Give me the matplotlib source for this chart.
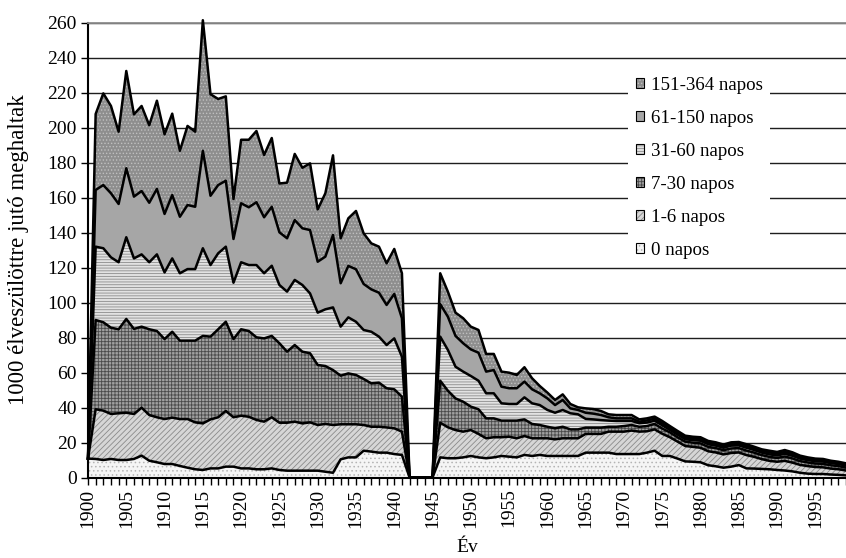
import numpy as np
import matplotlib
matplotlib.use("Agg")
import matplotlib.pyplot as plt
from matplotlib.patches import Patch
from matplotlib.legend_handler import HandlerTuple

# Infant deaths per 1000 live births, by age at death (days), 1900-1999
years = list(range(1900, 2000))

napos_0 = [
    10.8, 10.6, 10.0, 10.6, 10.0, 10.0, 10.6, 12.5, 9.6, 8.7,
    7.7, 7.7, 6.6, 5.6, 4.7, 4.3, 5.2, 5.2, 6.2, 6.2,
    5.2, 5.2, 4.7, 4.7, 5.2, 4.3, 3.9, 3.9, 3.9, 3.9,
    3.9, 3.3, 2.7, 10.4, 11.5, 11.5, 15.3, 14.8, 14.2, 14.2,
    13.4, 12.9, 0, 0, 0, 0, 11.5, 11.0, 11.0, 11.5,
    12.3, 11.5, 11.0, 11.5, 12.3, 11.9, 11.5, 12.9, 12.3, 12.9,
    12.3, 12.3, 12.3, 12.3, 12.3, 14.2, 14.2, 14.2, 14.2, 13.4,
    13.4, 13.4, 13.4, 14.2, 15.3, 12.3, 12.3, 10.8, 9.2, 9.0,
    8.7, 7.0, 6.4, 5.6, 6.2, 7.1, 5.2, 5.1, 4.9, 4.7,
    4.3, 4.0, 3.5, 2.7, 2.2, 2.0, 2.0, 1.7, 1.5, 1.2,
]
napos_1_6 = [
    0, 28.4, 28.2, 25.7, 26.7, 27.0, 25.7, 27.4, 26.1, 25.7,
    25.7, 26.5, 26.8, 27.8, 26.8, 26.6, 28.0, 29.2, 31.8, 28.2,
    30.1, 29.5, 28.2, 27.2, 29.2, 27.0, 27.4, 28.0, 27.0, 27.6,
    26.1, 27.3, 27.3, 20.0, 18.9, 18.9, 14.7, 14.2, 14.8, 14.4,
    14.7, 13.3, 0, 0, 0, 0, 19.8, 17.7, 16.1, 14.7,
    14.8, 13.4, 11.4, 11.5, 10.7, 11.4, 10.9, 10.8, 10.1, 9.5,
    10.1, 9.5, 10.1, 10.1, 10.1, 10.7, 10.7, 10.7, 12.0, 12.8,
    12.8, 13.4, 12.8, 12.2, 12.2, 12.7, 10.7, 9.7, 8.8, 8.5,
    8.3, 8.0, 7.9, 7.6, 7.8, 7.2, 7.6, 6.7, 5.6, 4.8,
    4.7, 5.5, 5.0, 4.5, 4.3, 4.0, 3.8, 3.4, 3.2, 2.8,
]
napos_7_30 = [
    0, 51.0, 50.5, 49.3, 48.0, 53.6, 48.6, 46.3, 49.0, 49.3,
    45.7, 49.1, 44.8, 44.8, 46.7, 50.0, 47.3, 50.3, 51.0, 44.7,
    49.4, 49.0, 47.2, 47.6, 46.5, 45.4, 40.6, 43.8, 41.0, 39.5,
    34.3, 33.1, 31.4, 27.8, 29.1, 28.2, 26.3, 24.8, 25.2, 22.4,
    22.3, 20.0, 0, 0, 0, 0, 24.0, 20.9, 18.1, 17.1,
    13.4, 14.1, 11.4, 10.8, 9.5, 9.2, 10.1, 9.5, 8.2, 7.6,
    6.6, 6.3, 6.6, 5.1, 5.1, 3.6, 3.6, 3.6, 2.8, 2.8,
    3.2, 3.2, 2.8, 3.0, 3.1, 3.0, 2.8, 2.5, 2.5, 2.4,
    2.5, 2.5, 2.5, 2.4, 2.6, 2.5, 2.6, 2.4, 2.3, 2.3,
    2.2, 2.5, 2.4, 2.2, 2.1, 2.0, 2.0, 1.9, 1.8, 1.7,
]
napos_31_60 = [
    0, 41.9, 42.3, 40.2, 38.3, 46.7, 40.3, 41.3, 38.3, 43.8,
    38.1, 41.9, 38.5, 40.9, 40.9, 50.1, 40.9, 43.4, 42.9, 32.2,
    38.3, 37.7, 41.3, 37.2, 40.1, 33.3, 34.3, 37.2, 38.1, 34.2,
    29.9, 32.4, 35.8, 28.0, 32.0, 30.4, 28.0, 29.5, 26.3, 24.7,
    29.1, 22.8, 0, 0, 0, 0, 25.2, 23.3, 18.1, 17.2,
    17.5, 16.3, 14.3, 14.3, 9.9, 9.5, 9.5, 12.6, 11.8, 11.4,
    9.6, 8.9, 9.6, 9.2, 8.6, 5.0, 4.7, 4.3, 3.5, 3.3,
    2.9, 2.3, 2.0, 2.0, 1.8, 1.8, 1.4, 1.5, 1.4, 1.4,
    1.5, 1.5, 1.4, 1.4, 1.6, 1.5, 1.6, 1.5, 1.4, 1.4,
    1.4, 1.5, 1.5, 1.4, 1.3, 1.3, 1.3, 1.2, 1.2, 1.1,
]
napos_61_150 = [
    0, 32.4, 36.1, 36.6, 33.3, 39.4, 35.3, 36.2, 34.0, 37.4,
    33.4, 36.2, 32.3, 36.6, 35.6, 55.7, 39.6, 39.0, 37.7, 25.0,
    33.7, 33.0, 35.9, 32.0, 33.7, 30.1, 30.5, 34.2, 32.4, 36.2,
    29.1, 30.1, 41.4, 24.8, 29.4, 30.0, 26.3, 24.2, 25.1, 22.9,
    25.4, 22.0, 0, 0, 0, 0, 18.6, 19.0, 17.6, 16.2,
    15.2, 16.0, 12.4, 13.3, 9.5, 9.0, 9.0, 9.0, 8.0, 6.7,
    6.6, 4.4, 5.7, 2.8, 2.5, 3.5, 3.3, 2.9, 1.9, 1.5,
    1.5, 1.5, 0.9, 1.2, 1.2, 1.2, 1.1, 1.0, 1.0, 1.0,
    1.0, 1.0, 1.0, 0.9, 1.0, 1.0, 1.0, 1.0, 1.0, 1.1,
    1.0, 1.1, 1.0, 0.9, 0.9, 0.8, 0.8, 0.8, 0.7, 0.7,
]
napos_151_364 = [
    0, 43.4, 52.4, 49.9, 41.3, 55.6, 47.0, 48.6, 44.3, 50.4,
    45.5, 46.5, 37.7, 45.2, 42.9, 74.6, 58.0, 49.2, 48.2, 22.8,
    36.3, 38.6, 40.7, 35.6, 39.3, 27.9, 31.8, 37.8, 34.6, 38.1,
    29.9, 36.2, 45.5, 25.7, 27.2, 33.3, 28.9, 26.3, 26.3, 23.8,
    25.7, 25.7, 0, 0, 0, 0, 17.6, 14.3, 13.3, 14.3,
    13.0, 13.0, 10.1, 9.2, 8.6, 8.9, 7.6, 8.2, 6.3, 4.2,
    3.3, 2.9, 3.2, 2.5, 1.5, 2.5, 2.6, 2.3, 1.7, 1.9,
    1.9, 1.9, 1.3, 1.2, 1.2, 1.3, 1.1, 1.1, 1.0, 1.0,
    1.0, 0.9, 0.9, 0.9, 0.9, 1.0, 1.0, 0.9, 0.9, 1.0,
    1.0, 1.1, 1.0, 0.8, 0.7, 0.7, 0.7, 0.6, 0.6, 0.6,
]

series_labels = ["0 napos", "1-6 napos", "7-30 napos",
                 "31-60 napos", "61-150 napos", "151-364 napos"]
series_values = [napos_0, napos_1_6, napos_7_30,
                 napos_31_60, napos_61_150, napos_151_364]

y_ticks = list(range(0, 261, 20))
x_label_years = [y for y in years if y % 5 == 0]

plt.rcParams['font.family'] = ['Liberation Serif', 'DejaVu Serif']
plt.rcParams['hatch.linewidth'] = 0.6
FS_TICK = 14
FS_LEG = 13.6
FS_LABEL = 16.5

# fill colour, hatch colour, hatch pattern for each band (bottom to top)
band_styles = [
    ('#f5f5f5', '#b4b4b4', '....'),
    ('#d6d6d6', '#8a8a8a', '//////'),
    ('#a0a0a0', '#4a4a4a', '+++++'),
    ('#e2e2e2', '#8c8c8c', '------'),
    ('#a6a6a6', '#a6a6a6', None),
    ('#8e8e8e', '#c0c0c0', '.....'),
]

fig = plt.figure(figsize=(8.46, 5.58), dpi=100)
W, H = 846, 558
ax = fig.add_axes([88 / W, 1 - 477.5 / H, (846 - 88) / W, (477.5 - 22.5) / H])

x = np.array(years, dtype=float)
stack = np.array(series_values, dtype=float)
cum = np.cumsum(stack, axis=0)

lower = np.zeros_like(x)
for (fc, hc, hatch), upper in zip(band_styles, cum):
    ax.fill_between(x, lower, upper, facecolor=fc, edgecolor=hc, hatch=hatch,
                    linewidth=0, zorder=2, clip_on=False)
    lower = upper
for upper in cum:
    ax.plot(x, upper, color='black', lw=1.8, zorder=3, clip_on=False)

ax.set_xlim(1900, 1999)
ax.set_ylim(0, 260)

ax.set_yticks(y_ticks)
ax.set_yticklabels([str(v) for v in y_ticks], fontsize=FS_TICK)
ax.yaxis.grid(True, color='#1e1e1e', lw=1.0)
ax.set_axisbelow(True)

ax.set_xticks(years)
ax.set_xticklabels([str(y) if y in x_label_years else '' for y in years],
                   rotation=90, fontsize=FS_TICK)
ax.tick_params(axis='both', direction='out', length=5, width=1, colors='black', pad=3)

for side in ('left', 'bottom'):
    ax.spines[side].set_color('black')
    ax.spines[side].set_linewidth(1.5)
ax.spines['top'].set_color('#8c8c8c')
ax.spines['top'].set_linewidth(1.3)
ax.spines['right'].set_visible(False)

ax.set_ylabel('1000 élveszülöttre jutó meghaltak', fontsize=FS_LABEL)
ax.yaxis.set_label_coords((29 - 88) / 758, 0.5)
ax.set_xlabel('Év', fontsize=FS_TICK)
ax.xaxis.set_label_coords(0.5, (477.5 - 539) / 455)

handles = []
for fc, hc, hatch in band_styles:
    handles.append((Patch(facecolor=fc, edgecolor=hc, hatch=hatch, linewidth=0),
                    Patch(facecolor='none', edgecolor='black', linewidth=0.8)))
leg = ax.legend(handles[::-1], series_labels[::-1],
                handler_map={tuple: HandlerTuple(ndivide=1, pad=0)},
                loc='upper left', bbox_to_anchor=(628 / W, 1 - 69 / H),
                bbox_transform=fig.transFigure, borderaxespad=0,
                fontsize=FS_LEG, handlelength=0.45, handleheight=0.45,
                handletextpad=0.35, labelspacing=0.85, borderpad=0.4,
                frameon=True, fancybox=False, framealpha=1,
                facecolor='white', edgecolor='none')
leg.set_zorder(5)

fig.savefig('out.png', dpi=100)
